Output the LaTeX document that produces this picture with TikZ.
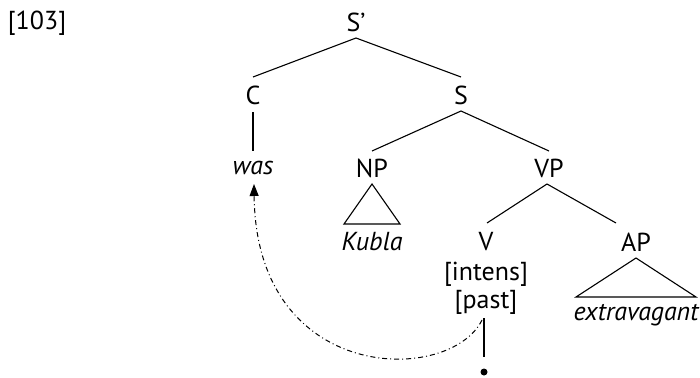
\documentclass[tikz,border=0pt]{standalone}
\usepackage{fontspec}
\setmainfont{PT Sans}
\usetikzlibrary{positioning,arrows.meta}

\begin{document}
\begin{tikzpicture}[
x=1pt,y=-1pt,
lab/.style={inner sep=1pt,anchor=center,font=\fontsize{26}{30}\selectfont},
word/.style={lab,font=\fontsize{26}{30}\selectfont\itshape},
branch/.style={line width=1.1pt},
move/.style={line width=1pt,dash pattern=on 5pt off 3pt on 1pt off 3pt,-{Triangle[length=12pt,width=9pt]}}
]
\useasboundingbox (0,0) rectangle (700,377);
% labels
\node[lab] (num) at (37,23) {[103]};
\node[lab] (sbar) at (356,22) {S’};
\node[lab] (c) at (253,95) {C};
\node[lab] (s) at (461,95) {S};
\node[word] (was) at (253,168) {was};
\node[lab] (np) at (372,168) {NP};
\node[lab] (vp) at (549,168) {VP};
\node[word] (kubla) at (372,242) {Kubla};
\node[lab] (v) at (486,242) {V};
\node[lab] (ap) at (636,242) {AP};
\node[lab] (intens) at (486,274) {[intens]};
\node[lab] (past) at (486,302) {[past]};
\node[word] (extr) at (636,315) {extravagant};
\fill (484,372) circle (3.5pt) coordinate (trace);
% branches
\coordinate (sbarB) at (356,38);
\coordinate (sB) at (461,111);
\coordinate (vpB) at (547,184);
\coordinate (wasB) at (254,184);
\draw[branch] (253,77) -- (sbarB) -- (461,77);
\draw[branch] (253,112) -- (253,151);
\draw[branch] (372,151) -- (sB) -- (549,151);
\draw[branch] (487,223) -- (vpB) -- (616,223);
\draw[branch] (372,184) -- (344,224) -- (400,224) -- cycle;
\draw[branch] (636,258) -- (576,297) -- (696,297) -- cycle;
\draw[branch] (484,318) -- (484,357);
% movement
\draw[move] (482,320) .. controls (450,385) and (256,385) .. (wasB);
\end{tikzpicture}
\end{document}
